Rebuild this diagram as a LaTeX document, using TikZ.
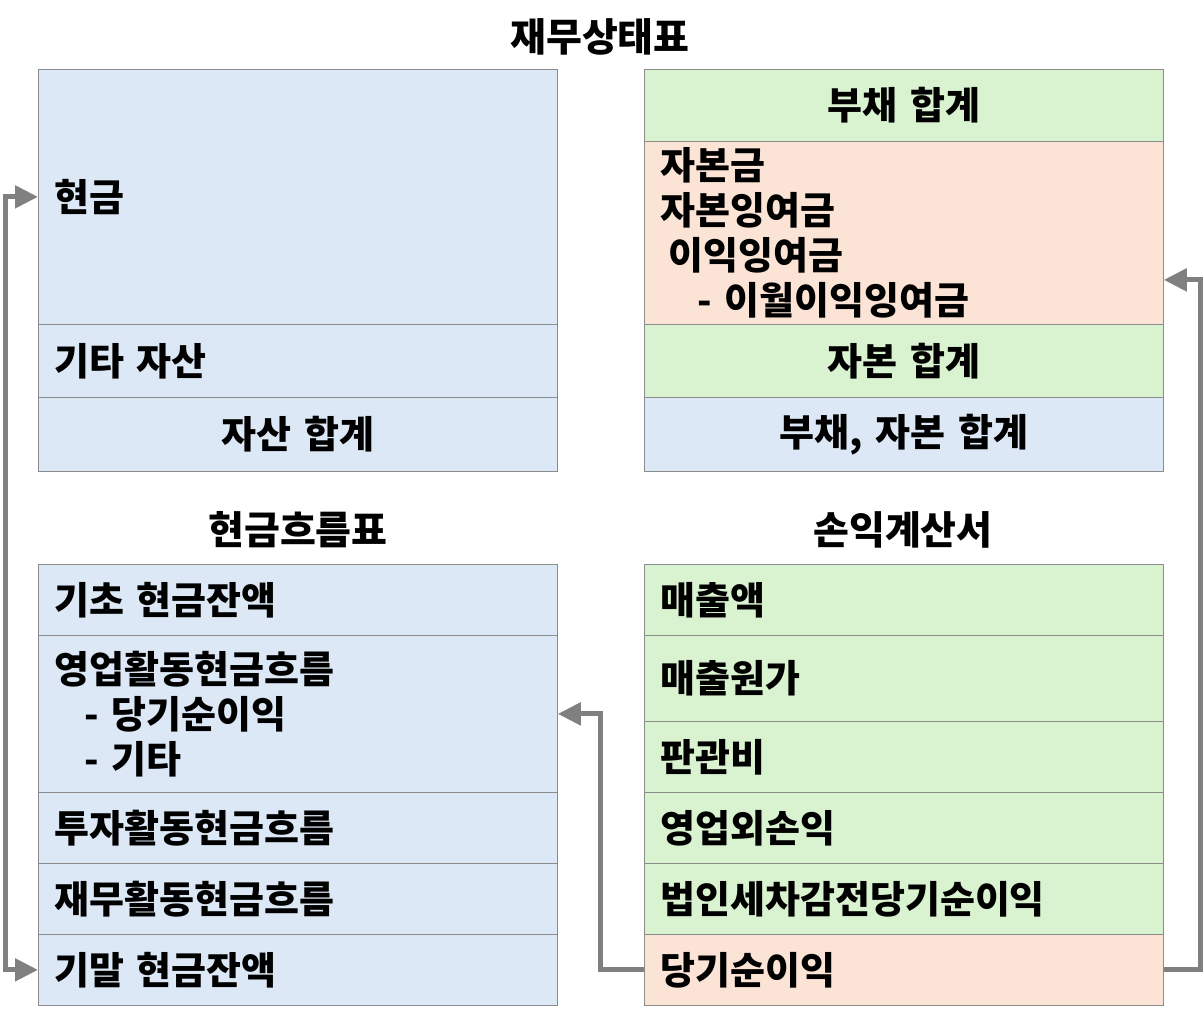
\documentclass[tikz,border=0pt]{standalone}
\usepackage{fontspec}
\setmainfont{Noto Sans CJK KR}
\usetikzlibrary{arrows.meta}
\definecolor{bluecell}{HTML}{DCE8F5}
\definecolor{greencell}{HTML}{D9F2D0}
\definecolor{peachcell}{HTML}{FBE3D6}
\definecolor{cellline}{HTML}{8C8C8C}
\definecolor{flowgray}{HTML}{808080}

\begin{document}
\begin{tikzpicture}[x=1pt, y=-1pt,
    cell/.style={draw=cellline, line width=.75pt, anchor=north west, text width=487pt,
      inner xsep=16pt, inner ysep=0pt, align=left, font=\bfseries\fontsize{38}{45}\selectfont},
    cellc/.style={cell, align=center},
    heading/.style={font=\bfseries\fontsize{39}{45}\selectfont},
    flow/.style={draw=flowgray, line width=5pt, -{Triangle[length=23pt, width=22pt]}}]
    \useasboundingbox (0,0) rectangle (1204,1015);

    % balance sheet
    \node[heading] (bstitle) at (600,37) {재무상태표};
    \node[cell, fill=bluecell, minimum height=255pt] (cash) at (38,69) {현금};
    \node[cell, fill=bluecell, minimum height=73pt] (other) at (38,324) {기타 자산};
    \node[cellc, fill=bluecell, minimum height=74pt] (assets) at (38,397) {자산 합계};
    \node[cellc, fill=greencell, minimum height=72pt] (liab) at (644,69) {부채 합계};
    \node[cell, fill=peachcell, minimum height=183pt] (equity) at (644,141)
        {자본금\\자본잉여금\\\hspace*{8pt}이익잉여금\\\hspace*{37pt}- 이월이익잉여금};
    \node[cellc, fill=greencell, minimum height=73pt] (eqsum) at (644,324) {자본 합계};
    \node[cellc, fill=bluecell, minimum height=74pt] (total) at (644,397) {부채, 자본 합계};

    % cash flow statement
    \node[heading] (cftitle) at (298,530) {현금흐름표};
    \node[cell, fill=bluecell, minimum height=71pt] (begin) at (38,564) {기초 현금잔액};
    \node[cell, fill=bluecell, minimum height=157pt] (ops) at (38,635)
        {영업활동현금흐름\\\hspace*{30pt}- 당기순이익\\\hspace*{30pt}- 기타};
    \node[cell, fill=bluecell, minimum height=71pt] (inv) at (38,792) {투자활동현금흐름};
    \node[cell, fill=bluecell, minimum height=71pt] (fin) at (38,863) {재무활동현금흐름};
    \node[cell, fill=bluecell, minimum height=71pt] (endcash) at (38,934) {기말 현금잔액};

    % income statement
    \node[heading] (istitle) at (903,530) {손익계산서};
    \node[cell, fill=greencell, minimum height=71pt] (sales) at (644,564) {매출액};
    \node[cell, fill=greencell, minimum height=86pt] (cogs) at (644,635) {매출원가};
    \node[cell, fill=greencell, minimum height=71pt] (sga) at (644,721) {판관비};
    \node[cell, fill=greencell, minimum height=71pt] (nonop) at (644,792) {영업외손익};
    \node[cell, fill=greencell, minimum height=71pt] (ebt) at (644,863) {법인세차감전당기순이익};
    \node[cell, fill=peachcell, minimum height=71pt] (netinc) at (644,934) {당기순이익};

    % links
    \draw[flow] (netinc.west) -- ++(-44,0) |- (ops.east);
    \draw[flow] (netinc.east) -- ++(37,0) |- ([yshift=-47pt]equity.east);
    \draw[flow, {Triangle[length=23pt, width=22pt]}-{Triangle[length=23pt, width=22pt]}]
        (cash.west) -- ++(-33,0) |- (endcash.west);
\end{tikzpicture}
\end{document}
